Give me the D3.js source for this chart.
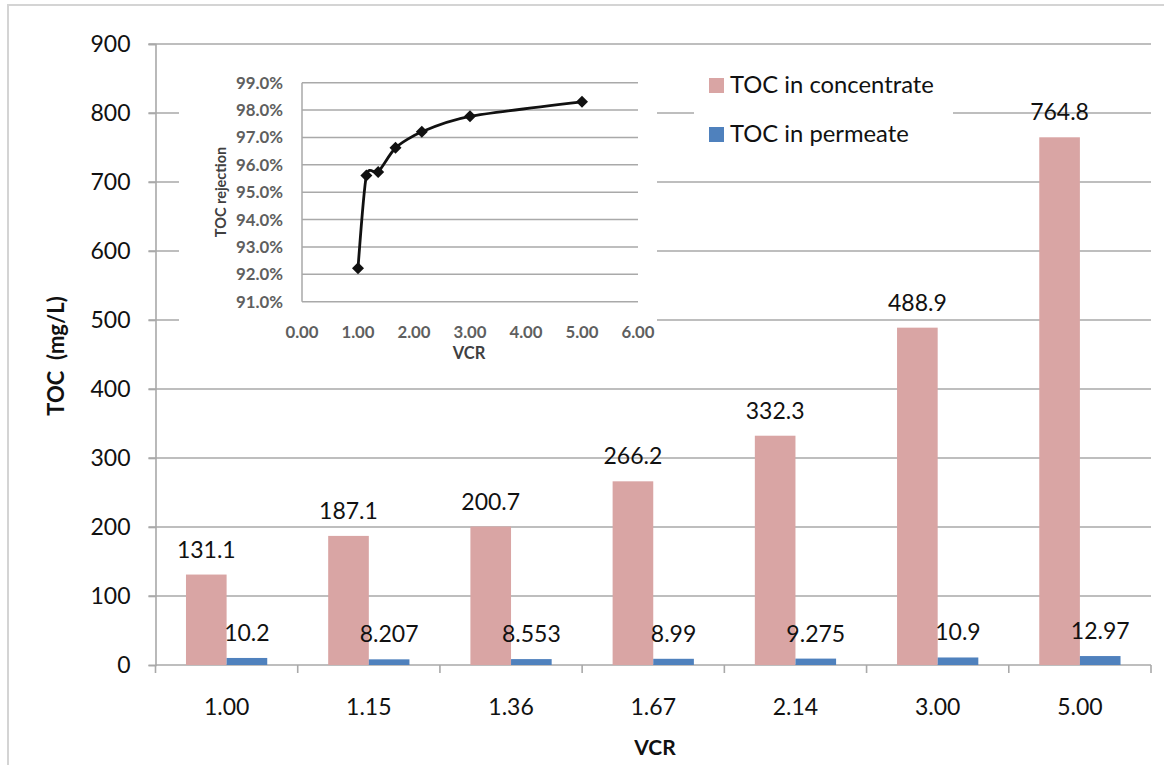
<!DOCTYPE html>
<html>
<head>
<meta charset="utf-8">
<script src="https://cdn.jsdelivr.net/npm/d3@7/dist/d3.min.js"></script>
<style>
  html, body { margin: 0; padding: 0; background: #fff; }
  svg { display: block; font-family: Lato, "Open Sans", sans-serif; }
</style>
</head>
<body>
<svg id="chart" width="1164" height="765"></svg>
<script>
// VCR steps (categories on the main axis)
const vcrLabels = ["1.00", "1.15", "1.36", "1.67", "2.14", "3.00", "5.00"];
// TOC (mg/L) measured at each VCR step
const tocConcentrate = [131.1, 187.1, 200.7, 266.2, 332.3, 488.9, 764.8];
const tocPermeate = [10.2, 8.207, 8.553, 8.99, 9.275, 10.9, 12.97];
const concentrateText = ["131.1", "187.1", "200.7", "266.2", "332.3", "488.9", "764.8"];
const permeateText = ["10.2", "8.207", "8.553", "8.99", "9.275", "10.9", "12.97"];
const seriesNames = ["TOC in concentrate", "TOC in permeate"];
const yTicks = [0, 100, 200, 300, 400, 500, 600, 700, 800, 900];

// Inset: TOC rejection vs VCR
const vcrValues = [1.00, 1.15, 1.36, 1.67, 2.14, 3.00, 5.00];
const rejection = [92.22, 95.61, 95.74, 96.62, 97.21, 97.77, 98.30];
const insetYTicks = [91, 92, 93, 94, 95, 96, 97, 98, 99];
const insetXTicks = [0, 1, 2, 3, 4, 5, 6];

const colors = ["#d9a5a4", "#4f81bd"];
const gridColor = "#a9a9a9";

const svg = d3.select("#chart");

// outer chart frame
svg.append("rect")
  .attr("x", 8).attr("y", 5).attr("width", 1200).attr("height", 800)
  .attr("fill", "none").attr("stroke", "#d4d4d4").attr("stroke-width", 2);

// ---------- main bar chart ----------
const plot = { left: 155.5, right: 1151, top: 44, bottom: 665 };

const y = d3.scaleLinear().domain([0, 900]).range([plot.bottom, plot.top]);
const x0 = d3.scaleBand().domain(vcrLabels).range([plot.left, plot.right]).padding(0);
const x1 = d3.scaleBand().domain(seriesNames).range([0, x0.bandwidth()])
  .paddingInner(0).paddingOuter(0.75);

// horizontal gridlines
svg.append("g")
  .selectAll("line")
  .data(yTicks.filter(d => d > 0))
  .join("line")
  .attr("x1", plot.left - 7).attr("x2", plot.right)
  .attr("y1", d => y(d)).attr("y2", d => y(d))
  .attr("stroke", gridColor).attr("stroke-width", 1.6);

// y axis
const yAxis = svg.append("g")
  .attr("transform", `translate(${plot.left},0)`)
  .call(d3.axisLeft(y).tickValues(yTicks).tickSize(7).tickPadding(18).tickFormat(d3.format("d")));
yAxis.select(".domain").attr("stroke", gridColor).attr("stroke-width", 1.6);
yAxis.selectAll(".tick line").attr("stroke", gridColor).attr("stroke-width", 1.6);
yAxis.selectAll(".tick text")
  .attr("font-size", 23).attr("fill", "#111").attr("font-family", "Lato, sans-serif");

// x axis
const xAxis = svg.append("g")
  .attr("transform", `translate(0,${plot.bottom})`)
  .call(d3.axisBottom(x0).tickSize(0).tickPadding(34));
xAxis.select(".domain").remove();
xAxis.selectAll(".tick text")
  .attr("font-size", 23).attr("fill", "#111").attr("font-family", "Lato, sans-serif");
svg.append("line")
  .attr("x1", plot.left).attr("x2", plot.right)
  .attr("y1", plot.bottom).attr("y2", plot.bottom)
  .attr("stroke", gridColor).attr("stroke-width", 1.6);
// category boundary ticks
svg.append("g")
  .selectAll("line")
  .data(vcrLabels.map(d => x0(d)).concat([plot.right]))
  .join("line")
  .attr("x1", d => d).attr("x2", d => d)
  .attr("y1", plot.bottom).attr("y2", plot.bottom + 8)
  .attr("stroke", gridColor).attr("stroke-width", 1.6);

// bars
const rows = vcrLabels.map((c, i) => ({
  cat: c,
  vals: [
    { s: seriesNames[0], v: tocConcentrate[i], t: concentrateText[i], c: colors[0] },
    { s: seriesNames[1], v: tocPermeate[i], t: permeateText[i], c: colors[1] }
  ]
}));

const groups = svg.append("g").selectAll("g")
  .data(rows)
  .join("g")
  .attr("transform", d => `translate(${x0(d.cat)},0)`);

groups.selectAll("rect")
  .data(d => d.vals)
  .join("rect")
  .attr("x", d => x1(d.s))
  .attr("width", x1.bandwidth())
  .attr("y", d => y(d.v))
  .attr("height", d => y(0) - y(d.v))
  .attr("fill", d => d.c);

groups.selectAll("text")
  .data(d => d.vals)
  .join("text")
  .attr("x", d => x1(d.s) + x1.bandwidth() / 2)
  .attr("y", d => y(d.v) - 17)
  .attr("text-anchor", "middle")
  .attr("font-size", 23)
  .attr("fill", "#111")
  .text(d => d.t);

// axis titles
svg.append("text")
  .attr("transform", "translate(64,356) rotate(-90)")
  .attr("text-anchor", "middle")
  .attr("font-size", 22).attr("font-weight", "bold").attr("fill", "#111")
  .attr("xml:space", "preserve")
  .text("TOC  (mg/L)");

svg.append("text")
  .attr("x", 655).attr("y", 755)
  .attr("text-anchor", "middle")
  .attr("font-size", 21).attr("font-weight", "bold").attr("fill", "#111")
  .text("VCR");

// ---------- legend ----------
svg.append("rect")
  .attr("x", 694).attr("y", 66).attr("width", 259).attr("height", 90)
  .attr("fill", "#fff");
const legend = svg.append("g").selectAll("g")
  .data(seriesNames)
  .join("g")
  .attr("transform", (d, i) => `translate(709,${85 + i * 49})`);
legend.append("rect")
  .attr("x", 0).attr("y", -7).attr("width", 15).attr("height", 15)
  .attr("fill", (d, i) => colors[i]);
legend.append("text")
  .attr("x", 21).attr("y", 8)
  .attr("font-size", 23.8).attr("fill", "#111")
  .text(d => d);

// ---------- inset line chart ----------
svg.append("rect")
  .attr("x", 179).attr("y", 52).attr("width", 478).attr("height", 318)
  .attr("fill", "#fff");

const inset = { left: 302, right: 638, top: 82.7, bottom: 301.7 };
const ix = d3.scaleLinear().domain([0, 6]).range([inset.left, inset.right]);
const iy = d3.scaleLinear().domain([91, 99]).range([inset.bottom, inset.top]);

svg.append("g")
  .selectAll("line")
  .data(insetYTicks)
  .join("line")
  .attr("x1", inset.left).attr("x2", inset.right)
  .attr("y1", d => iy(d)).attr("y2", d => iy(d))
  .attr("stroke", gridColor).attr("stroke-width", 1.5);
svg.append("line")
  .attr("x1", inset.left).attr("x2", inset.left)
  .attr("y1", inset.top).attr("y2", inset.bottom)
  .attr("stroke", gridColor).attr("stroke-width", 1.5);

svg.append("g")
  .selectAll("text")
  .data(insetYTicks)
  .join("text")
  .attr("x", 283).attr("y", d => iy(d))
  .attr("dy", "0.36em")
  .attr("text-anchor", "end")
  .attr("font-size", 16.8).attr("font-weight", "bold").attr("fill", "#5f5f5f")
  .text(d => d.toFixed(1) + "%");

svg.append("g")
  .selectAll("text")
  .data(insetXTicks)
  .join("text")
  .attr("x", d => ix(d)).attr("y", 332)
  .attr("dy", "0.36em")
  .attr("text-anchor", "middle")
  .attr("font-size", 16.8).attr("font-weight", "bold").attr("fill", "#5f5f5f")
  .text(d => d.toFixed(2));

svg.append("text")
  .attr("x", 469).attr("y", 359)
  .attr("text-anchor", "middle")
  .attr("font-size", 16.5).attr("font-weight", "bold").attr("fill", "#404040")
  .text("VCR");

svg.append("text")
  .attr("transform", "translate(226,192) rotate(-90)")
  .attr("text-anchor", "middle")
  .attr("font-size", 14.5).attr("font-weight", "bold").attr("fill", "#404040")
  .text("TOC rejection");

const pts = vcrValues.map((v, i) => [ix(v), iy(rejection[i])]);
svg.append("path")
  .attr("d", d3.line().curve(d3.curveCardinal.tension(0.3))(pts))
  .attr("fill", "none").attr("stroke", "#111").attr("stroke-width", 2.8);

svg.append("g")
  .selectAll("path")
  .data(pts)
  .join("path")
  .attr("transform", d => `translate(${d[0]},${d[1]}) rotate(45)`)
  .attr("d", d3.symbol(d3.symbolSquare, 72)())
  .attr("fill", "#111");
</script>
</body>
</html>
